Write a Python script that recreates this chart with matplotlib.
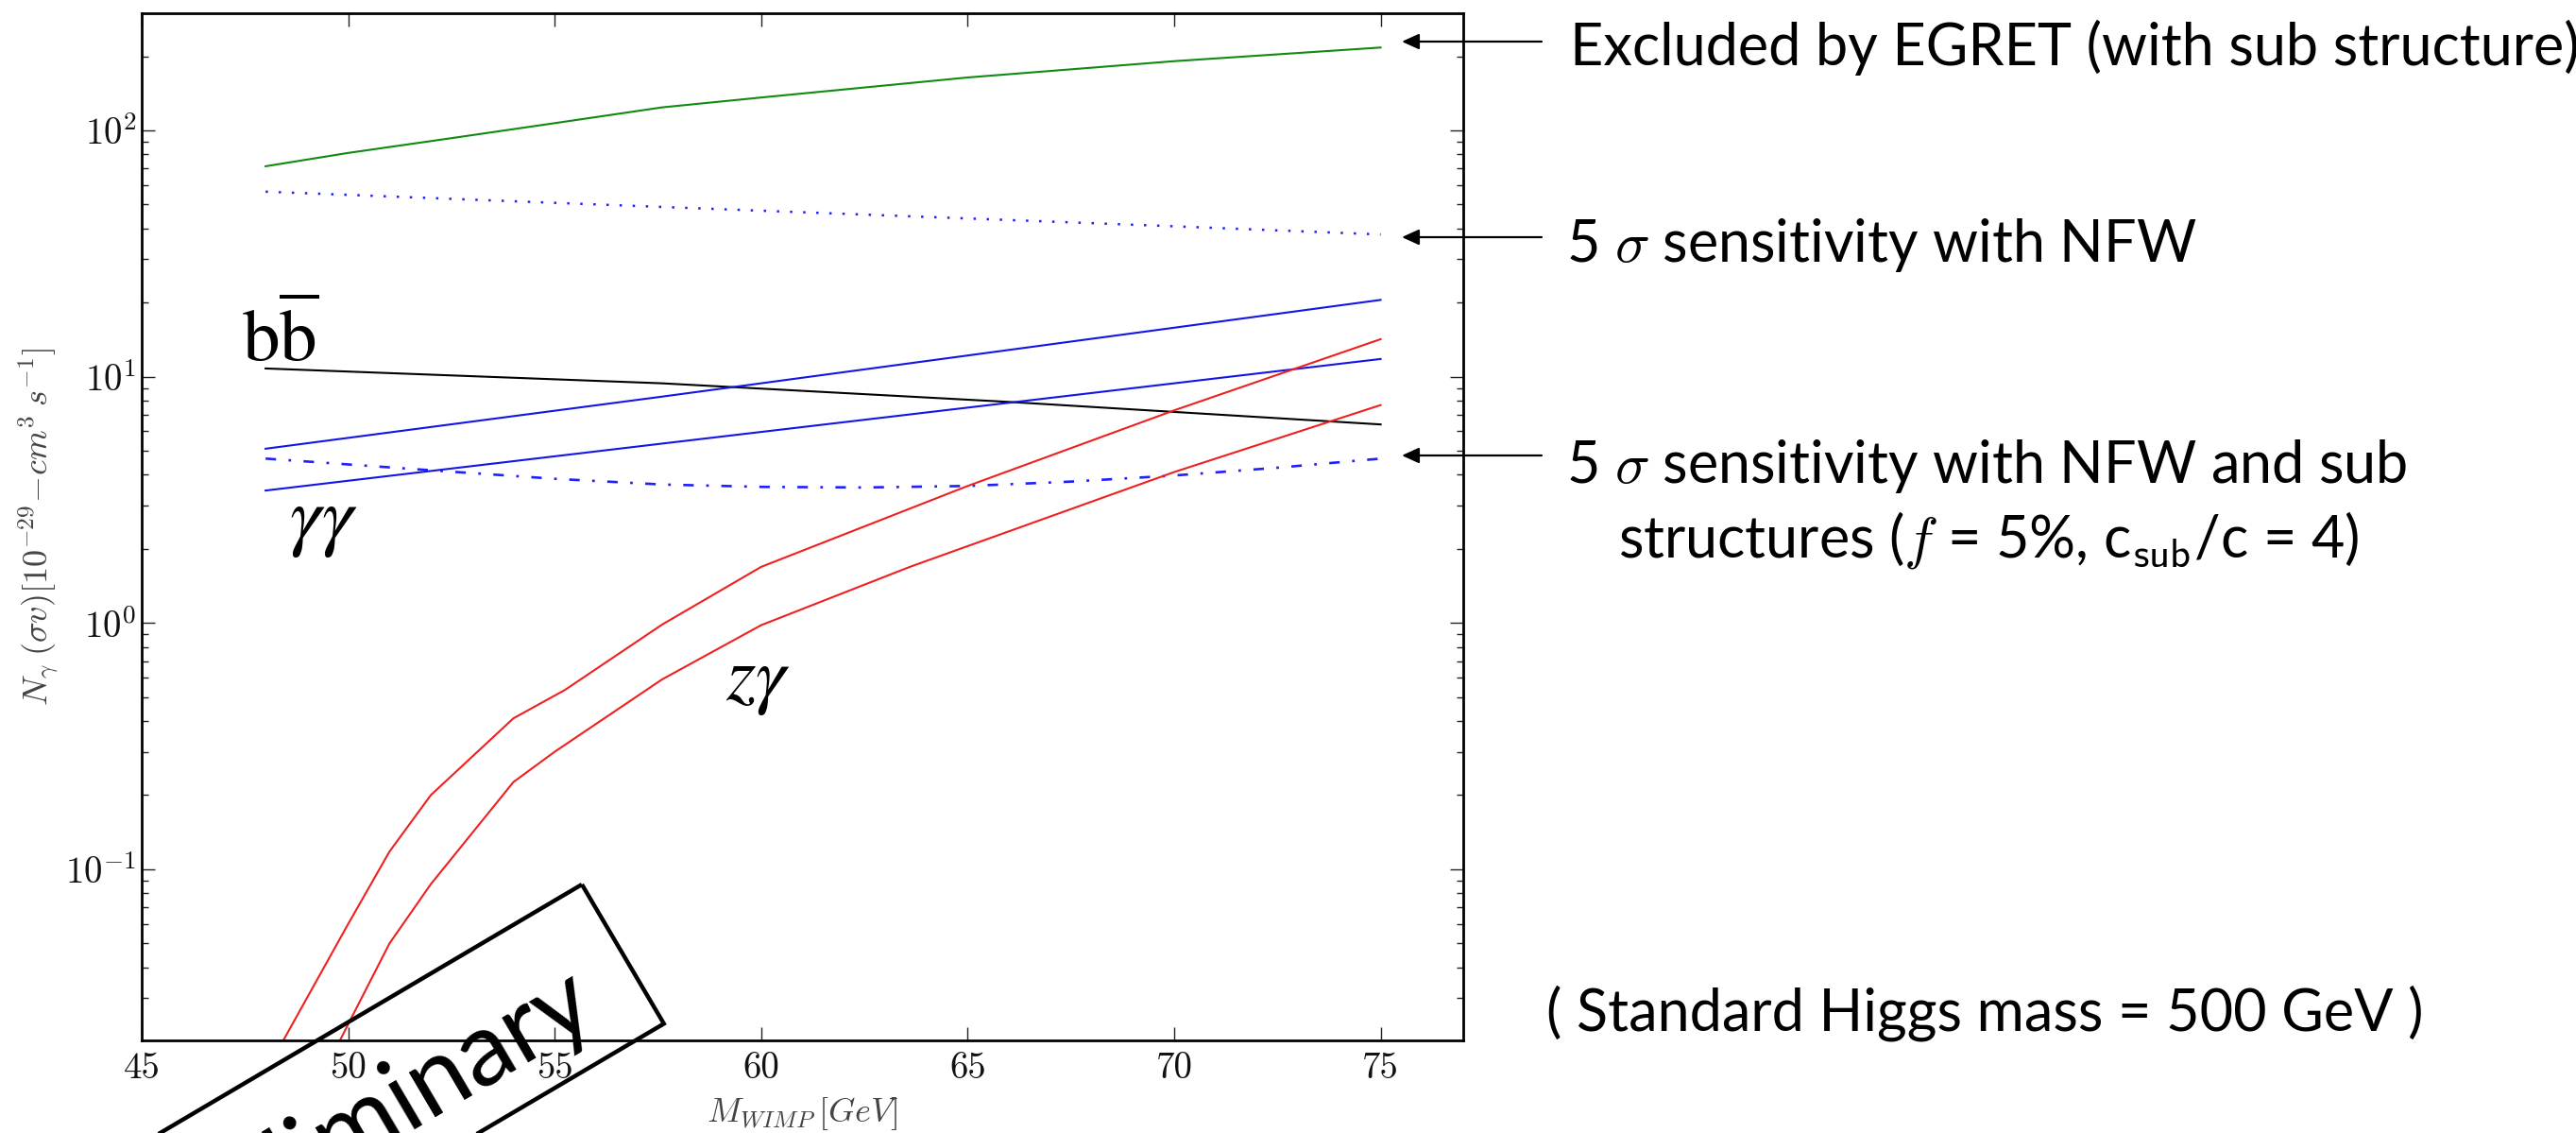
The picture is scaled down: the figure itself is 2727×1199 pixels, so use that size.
import matplotlib
matplotlib.use('Agg')
import matplotlib.pyplot as plt
from matplotlib.patches import FancyArrowPatch, Polygon, ArrowStyle
from matplotlib.ticker import NullLocator, LogLocator
import numpy as np

plt.rcParams['mathtext.fontset'] = 'cm'
plt.rcParams['font.family'] = ['cmr10', 'DejaVu Serif']
plt.rcParams['axes.formatter.use_mathtext'] = True
plt.rcParams['lines.scale_dashes'] = False

# ---------------- data ----------------
mass_egret = [48, 50, 52.5, 55, 57.6, 60, 65, 70, 75]
egret_excl = [71.5, 81, 93, 107, 124, 136, 164, 191, 217]

mass_nfw = [48, 55, 60, 65, 70, 75]
nfw_5sigma = [56.4, 50.8, 47.2, 43.9, 40.8, 37.8]

mass_sub = [48, 52, 55, 57.6, 60, 62.5, 65, 67.5, 70, 72.5, 75]
sub_5sigma = [4.65, 4.17, 3.85, 3.65, 3.57, 3.55, 3.6, 3.75, 3.97, 4.27, 4.65]

mass_bb = [48, 57.6, 66, 75]
bb_flux = [10.8, 9.4, 7.9, 6.4]

mass_gg = [48, 57.6, 75]
gg_upper = [5.1, 8.3, 20.5]
gg_lower = [3.45, 5.35, 11.8]

mass_zg_up = [48, 49, 50, 51, 52, 54, 55.25, 57.6, 60, 65, 70, 75]
zg_upper = [0.015, 0.03, 0.06, 0.118, 0.2, 0.41, 0.535, 0.985, 1.69, 3.6, 7.3, 14.2]

mass_zg_lo = [49, 50, 51, 52, 54, 55, 57.6, 60, 63.6, 70, 75]
zg_lower = [0.011, 0.0235, 0.05, 0.087, 0.226, 0.30, 0.59, 0.98, 1.69, 4.1, 7.67]

xticks = [45, 50, 55, 60, 65, 70, 75]
yticks = [0.1, 1, 10, 100]
ytick_labels = [r'$10^{-1}$', r'$10^{0}$', r'$10^{1}$', r'$10^{2}$']

# ---------------- figure ----------------
W, H = 2727, 1199
fig = plt.figure(figsize=(W / 100, H / 100), dpi=100)
fig.patch.set_facecolor('white')


def P(px, py):
    return (px / W, 1 - py / H)


ax = fig.add_axes([150 / W, 1 - 1101 / H, (1549 - 150) / W, (1101 - 14) / H])

lw = 1.5
ax.plot(mass_egret, egret_excl, color='#128a12', lw=lw)
ax.plot(mass_nfw, nfw_5sigma, color='#2020ff', lw=1.8, linestyle=(0, (1.8, 8.2)))
ax.plot(mass_sub, sub_5sigma, color='#2020ff', lw=1.9, linestyle=(0, (8, 9.5, 2, 9.5)))
ax.plot(mass_bb, bb_flux, color='black', lw=lw)
ax.plot(mass_gg, gg_upper, color='#1515e6', lw=lw)
ax.plot(mass_gg, gg_lower, color='#1515e6', lw=lw)
ax.plot(mass_zg_up, zg_upper, color='#f02020', lw=lw)
ax.plot(mass_zg_lo, zg_lower, color='#f02020', lw=lw)

ax.set_yscale('log')
ax.set_xlim(45, 77)
ax.set_ylim(0.0202, 299)
ax.set_xticks(xticks)
ax.set_xticklabels([str(t) for t in xticks])
ax.set_yticks(yticks)
ax.set_yticklabels(ytick_labels)
ax.xaxis.set_minor_locator(NullLocator())
ax.yaxis.set_minor_locator(LogLocator(base=10, subs=np.arange(2, 10)))

for s in ax.spines.values():
    s.set_linewidth(2.0)
ax.tick_params(which='both', direction='in', top=True, right=True, width=1.0, colors='#222222')
ax.tick_params(which='major', length=10, labelsize=28, labelcolor='#111111')
ax.tick_params(axis='x', which='major', pad=9)
ax.tick_params(axis='y', which='major', pad=4)
ax.tick_params(which='minor', length=5)

ax.set_xlabel(r'$M_{WIMP}\,[GeV]$', fontsize=26, color='#444444')
ax.xaxis.set_label_coords(0.5, -0.071)
ax.xaxis.label.set_verticalalignment('center')
ax.set_ylabel(r'$N_\gamma\;(\sigma v)[10^{-29}\!-\!cm^3\;s^{-1}]$', fontsize=26, color='#444444')
ax.yaxis.set_label_coords(-0.078, 0.5)
ax.yaxis.label.set_verticalalignment('center')

# channel labels inside the axes
ax.text(48.36, 11.5, r'$\mathrm{b}\overline{\mathrm{b}}$', fontsize=57, ha='center', va='baseline',
        math_fontfamily='stix')
ax.text(49.39, 2.51, r'$\gamma\gamma$', fontsize=60, ha='center', va='center', math_fontfamily='stix')
ax.text(59.93, 0.569, r'$z\gamma$', fontsize=58, ha='center', va='center', math_fontfamily='stix')

# annotations on the right
style = ArrowStyle('-|>', head_length=1.1, head_width=0.5)
for y in (44, 251, 482):
    arr = FancyArrowPatch(P(1632, y), P(1484, y), transform=fig.transFigure, arrowstyle=style,
                          mutation_scale=10, lw=1.6, color='black', shrinkA=0, shrinkB=0)
    fig.add_artist(arr)

afont = dict(family=['Lato', 'DejaVu Sans'], fontsize=44, color='black', va='baseline', ha='left')
fig.text(*P(1662, 69), 'Excluded by EGRET (with sub structure)', **afont)
fig.text(*P(1658, 277), r'5 $\sigma$ sensitivity with NFW', **afont)
fig.text(*P(1658, 511), r'5 $\sigma$ sensitivity with NFW and sub', **afont)
fig.text(*P(1713, 589), r'structures ($\it{f}$ = 5%, c$_{\sf{sub}}$/c = 4)', **afont)
fig.text(*P(1637, 1090), '( Standard Higgs mass = 500 GeV )', **afont)

# "Preliminary" stamp
theta = np.deg2rad(30.5)
u = np.array([np.cos(theta), -np.sin(theta)])   # along text (pixel coords, y down)
v = np.array([np.sin(theta), np.cos(theta)])    # across box, downward
T = np.array([616.0, 936.0])
a, w = 171.0, 900.0
corners = [T, T + a * v, T + a * v - w * u, T - w * u]
poly = Polygon([P(*c) for c in corners], closed=True, fill=False, edgecolor='black', lw=3.2,
               transform=fig.transFigure, clip_on=False)
fig.add_artist(poly)
anchor = T + 128 * v - 55 * u
fig.text(*P(*anchor), 'Preliminary', rotation=np.rad2deg(theta), rotation_mode='anchor',
         ha='right', va='baseline', fontsize=78, family=['Lato', 'DejaVu Sans'], color='black')

fig.savefig('out.png', dpi=100)
